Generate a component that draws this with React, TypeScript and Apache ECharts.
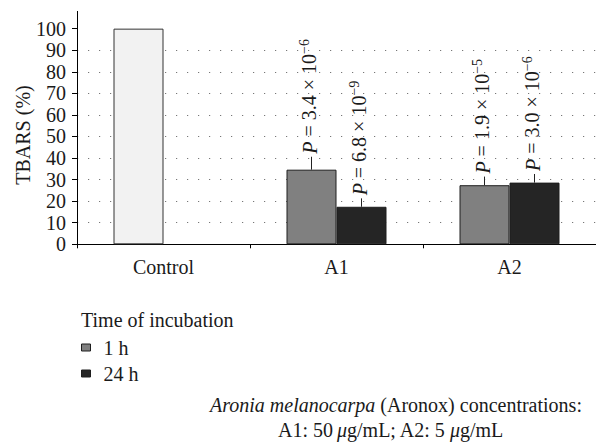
import React, { useEffect, useRef } from "react";
import * as echarts from "echarts";

const categories = ["Control", "A1", "A2"];
const values1h = [100, 34.6, 27.4];
const values24h = [null, 17.4, 28.6];
const errTop1h = [null, 40.6, 31.4];
const errTop24h = [null, 21.3, 32.6];
const pMant1h = ["", "3.4", "1.9"];
const pExp1h = ["", "−6", "−5"];
const pMant24h = ["", "6.8", "3.0"];
const pExp24h = ["", "−9", "−6"];
const yTicks = [0, 10, 20, 30, 40, 50, 60, 70, 80, 90, 100];

const FONT = "'Liberation Serif', 'Times New Roman', serif";
const FS = 20;
const C_CONTROL = "#f2f2f2";
const C_1H = "#808080";
const C_24H = "#252525";
const C_BORDER = "#1e1e1e";
const C_TEXT = "#1a1a1a";

function makeErrSeries(name: string, barVals: (number | null)[], tops: (number | null)[], mant: string[], exp: string[], offset: number) {
  const data = categories.map((_, i) => [i, tops[i] == null ? NaN : tops[i], barVals[i] == null ? NaN : barVals[i]]);
  return {
    type: "custom",
    name,
    data,
    encode: { x: 0, y: 1 },
    silent: true,
    z: 5,
    renderItem: (params: any, api: any) => {
      const i = params.dataIndex;
      const top = tops[i];
      const base = barVals[i];
      if (top == null || base == null) return null;
      const pTop = api.coord([i, top]);
      const pBase = api.coord([i, base]);
      const x = pTop[0] + offset;
      return {
        type: "group",
        children: [
          {
            type: "line",
            shape: { x1: x, y1: pBase[1], x2: x, y2: pTop[1] },
            style: { stroke: "#222", lineWidth: 1 },
          },
          {
            type: "text",
            x: x - 3,
            y: pTop[1] - 3,
            rotation: Math.PI / 2,
            style: {
              text: `{p|P} = ${mant[i]} × 10{s|${exp[i]}}`,
              fontFamily: FONT,
              fontSize: FS,
              fill: C_TEXT,
              align: "left",
              verticalAlign: "middle",
              rich: {
                p: { fontStyle: "italic", fontSize: FS, fontFamily: FONT, fill: C_TEXT, lineHeight: 22, verticalAlign: "bottom" },
                s: { fontSize: 14, fontFamily: FONT, fill: C_TEXT, lineHeight: 14, verticalAlign: "top" },
              },
            },
          },
        ],
      };
    },
  };
}

export default function App() {
  const ref = useRef<HTMLDivElement>(null);
  useEffect(() => {
    if (!ref.current) return;
    const chart = echarts.init(ref.current, null, { renderer: "svg" });
    const option: any = {
      animation: false,
      backgroundColor: "#ffffff",
      grid: { left: 77, top: 11.4, width: 524, height: 232.9, containLabel: false },
      xAxis: {
        type: "category",
        data: categories,
        axisLine: { show: true, lineStyle: { color: "#000", width: 1 } },
        axisTick: { show: true, length: 4, lineStyle: { color: "#000" } },
        axisLabel: { fontFamily: FONT, fontSize: FS, color: C_TEXT, margin: 13 },
        splitLine: { show: false },
      },
      yAxis: {
        type: "value",
        min: 0,
        max: 108,
        interval: 10,
        axisLine: { show: true, lineStyle: { color: "#000", width: 1 } },
        axisTick: { show: true, length: 5, lineStyle: { color: "#000" }, customValues: yTicks },
        axisLabel: {
          fontFamily: FONT,
          fontSize: FS,
          color: C_TEXT,
          margin: 11,
          customValues: yTicks,
          formatter: (v: number) => (v > 100 ? "" : String(v)),
        },
        splitLine: {
          show: true,
          showMinLine: false,
          showMaxLine: false,
          lineStyle: { color: "#777", width: 1.2, type: [1.2, 9.8] },
        },
      },
      legend: {
        orient: "vertical",
        left: 76,
        top: 332.5,
        itemWidth: 9,
        itemHeight: 7,
        itemGap: 6,
        icon: "rect",
        data: ["1 h", "24 h"],
        itemStyle: { borderColor: C_BORDER, borderWidth: 1 },
        textStyle: { fontFamily: FONT, fontSize: FS, lineHeight: 20, color: C_TEXT, padding: [0, 0, 0, 8] },
      },
      graphic: [
        {
          type: "text",
          x: 23,
          y: 135,
          rotation: Math.PI / 2,
          style: { text: "TBARS (%)", fontFamily: FONT, fontSize: FS, fill: C_TEXT, align: "center", verticalAlign: "middle" },
        },
        {
          type: "text",
          x: 81,
          y: 320,
          style: { text: "Time of incubation", fontFamily: FONT, fontSize: FS, fill: C_TEXT, align: "left", verticalAlign: "middle" },
        },
        {
          type: "text",
          x: 210,
          y: 405,
          style: {
            text: "{i|Aronia melanocarpa} (Aronox) concentrations:",
            fontFamily: FONT,
            fontSize: FS,
            fill: C_TEXT,
            align: "left",
            verticalAlign: "middle",
            rich: { i: { fontStyle: "italic", fontFamily: FONT, fontSize: FS, fill: C_TEXT } },
          },
        },
        {
          type: "text",
          x: 278,
          y: 430,
          style: {
            text: "A1: 50\u2009{i|μ}g/mL; A2: 5\u2009{i|μ}g/mL",
            fontFamily: FONT,
            fontSize: FS,
            fill: C_TEXT,
            align: "left",
            verticalAlign: "middle",
            rich: { i: { fontStyle: "italic", fontFamily: FONT, fontSize: FS, fill: C_TEXT } },
          },
        },
      ],
      series: [
        {
          type: "bar",
          name: "1 h",
          barWidth: 50,
          barGap: "0%",
          itemStyle: { color: C_1H, borderColor: C_BORDER, borderWidth: 1 },
          data: values1h.map((v, i) =>
            i === 0 ? { value: v, itemStyle: { color: C_CONTROL, borderColor: "#333", borderWidth: 1 } } : v
          ),
        },
        {
          type: "bar",
          name: "24 h",
          barWidth: 50,
          itemStyle: { color: C_24H, borderColor: C_BORDER, borderWidth: 1 },
          data: values24h.map((v) => (v == null ? "-" : v)),
        },
        makeErrSeries("err1h", values1h, errTop1h, pMant1h, pExp1h, -25),
        makeErrSeries("err24h", values24h, errTop24h, pMant24h, pExp24h, 25),
      ],
    };
    chart.setOption(option);
    return () => chart.dispose();
  }, []);
  return <div ref={ref} style={{ position: "fixed", left: 0, top: 0, width: 596, height: 444 }} />;
}
